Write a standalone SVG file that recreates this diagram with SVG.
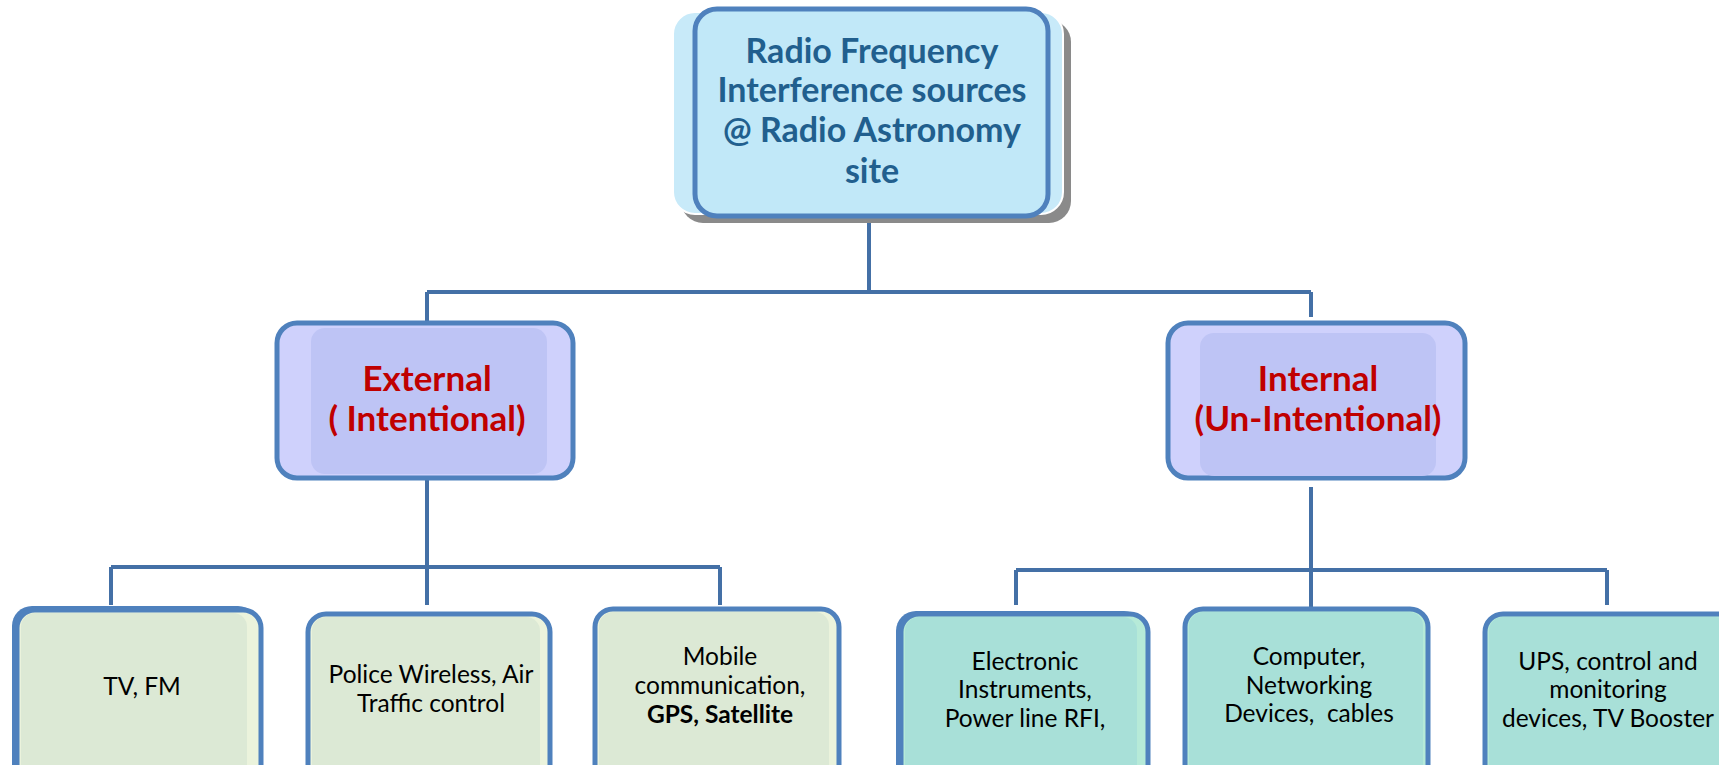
<svg xmlns="http://www.w3.org/2000/svg" width="1719" height="765" viewBox="0 0 1719 765">
<style>
.conn{stroke:#4470a6;stroke-width:4;fill:none;stroke-linecap:butt}
.bd{stroke:#4f81bd;stroke-width:5}
.t{font-family:Lato,"Open Sans",sans-serif;text-anchor:middle}
.top{font-size:34px;font-weight:bold;fill:#215f8e}
.mid{font-size:35px;font-weight:bold;fill:#c00000}
.leaf{font-size:24.5px;fill:#000}
.g{fill:#dce9d5}
.tq{fill:#a8e0d8}
</style>
<rect width="1719" height="765" fill="#fff"/>
<g id="connectors">
<path class="conn" d="M869 216V292M427 292H1311M427 292V323M1311 292V317"/>
<path class="conn" d="M427 478V567M111 567H720M111 567V605M427 567V605M720 567V605"/>
<path class="conn" d="M1311 487V611M1016 570H1607M1016 570V605M1607 570V605"/>
</g>
<g id="root">
<rect x="681" y="20" width="390" height="203" rx="22" fill="#8a8a8a"/>
<rect x="673" y="12" width="390" height="202" rx="22" fill="#c8eaf9" stroke="#fff" stroke-width="2"/>
<rect class="bd" x="695" y="9" width="353" height="207" rx="22" fill="#c1e8f8"/>
<text class="t top" x="872" y="63">Radio Frequency</text>
<text class="t top" x="872" y="102">Interference sources</text>
<text class="t top" x="872" y="142">@ Radio Astronomy</text>
<text class="t top" x="872" y="183">site</text>
</g>
<g id="external">
<rect class="bd" x="277" y="323" width="296" height="155" rx="20" fill="#cfd1fc"/>
<rect x="311" y="328" width="236" height="146" rx="14" fill="#bec4f5"/>
<text class="t mid" x="427" y="391">External</text>
<text class="t mid" x="427" y="431">( Intentional)</text>
</g>
<g id="internal">
<rect class="bd" x="1168" y="323" width="297" height="155" rx="20" fill="#cfd1fc"/>
<rect x="1200" y="333" width="236" height="143" rx="14" fill="#bec4f5"/>
<text class="t mid" x="1318" y="391">Internal</text>
<text class="t mid" x="1318" y="431">(Un-Intentional)</text>
</g>
<g id="tvfm">
<rect x="12" y="606" width="246" height="190" rx="20" fill="#4f81bd"/>
<rect class="bd" x="17" y="610" width="244" height="185" rx="18" fill="#ebf3dc"/>
<rect x="21" y="613" width="226" height="178" rx="14" class="g"/>
<text class="t leaf" x="142" y="695">TV, FM</text>
</g>
<g id="police">
<rect class="bd" x="308" y="614" width="242" height="180" rx="18" fill="#ebf3dc"/>
<rect x="312" y="617" width="228" height="174" rx="14" class="g"/>
<text class="t leaf" x="431" y="683">Police Wireless, Air</text>
<text class="t leaf" x="431" y="712">Traffic control</text>
</g>
<g id="mobile">
<rect class="bd" x="595" y="609" width="244" height="185" rx="18" fill="#ebf3dc"/>
<rect x="599" y="612" width="230" height="179" rx="14" class="g"/>
<text class="t leaf" x="720" y="665">Mobile</text>
<text class="t leaf" x="720" y="694">communication,</text>
<text class="t leaf" x="720" y="723" font-weight="bold">GPS, Satellite</text>
</g>
<g id="electronic">
<rect x="896" y="611" width="248" height="190" rx="20" fill="#4f81bd"/>
<rect class="bd" x="901" y="614" width="247" height="182" rx="18" fill="#b6ead8"/>
<rect x="905" y="617" width="232" height="176" rx="14" class="tq"/>
<text class="t leaf" x="1025" y="670">Electronic</text>
<text class="t leaf" x="1025" y="698">Instruments,</text>
<text class="t leaf" x="1025" y="727">Power line RFI,</text>
</g>
<g id="computer">
<rect class="bd" x="1185" y="609" width="243" height="185" rx="18" fill="#b6ead8"/>
<rect x="1189" y="612" width="234" height="179" rx="14" class="tq"/>
<text class="t leaf" x="1309" y="665">Computer,</text>
<text class="t leaf" x="1309" y="694">Networking</text>
<text class="t leaf" x="1309" y="722">Devices,&#160; cables</text>
</g>
<g id="ups">
<rect class="bd" x="1485" y="614" width="250" height="180" rx="18" fill="#b6ead8"/>
<rect x="1489" y="617" width="240" height="174" rx="14" class="tq"/>
<text class="t leaf" x="1608" y="670">UPS, control and</text>
<text class="t leaf" x="1608" y="698">monitoring</text>
<text class="t leaf" x="1608" y="727">devices, TV Booster</text>
</g>
</svg>
